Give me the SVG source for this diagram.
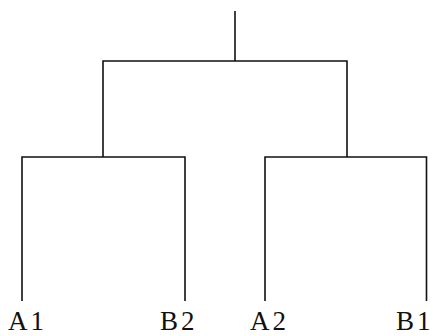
<svg xmlns="http://www.w3.org/2000/svg" width="433" height="336" viewBox="0 0 433 336">
<style>
.l{fill:none;stroke:#111;stroke-width:1.6}
.t{font-family:"Liberation Serif","Times New Roman",serif;font-size:27px;fill:#111;letter-spacing:3px}
</style>
<rect width="433" height="336" fill="#fff"/>
<g id="connectors">
<path class="l" d="M235 11V61"/>
<path class="l" d="M103 157V61H347V157"/>
<path class="l" d="M22 301V157H185V301"/>
<path class="l" d="M265 301V157H426.5V301"/>
</g>
<g id="A1"><text class="t" x="8" y="330">A1</text></g>
<g id="B2"><text class="t" x="160" y="330">B2</text></g>
<g id="A2"><text class="t" x="250" y="330">A2</text></g>
<g id="B1"><text class="t" x="396" y="330">B1</text></g>
</svg>
